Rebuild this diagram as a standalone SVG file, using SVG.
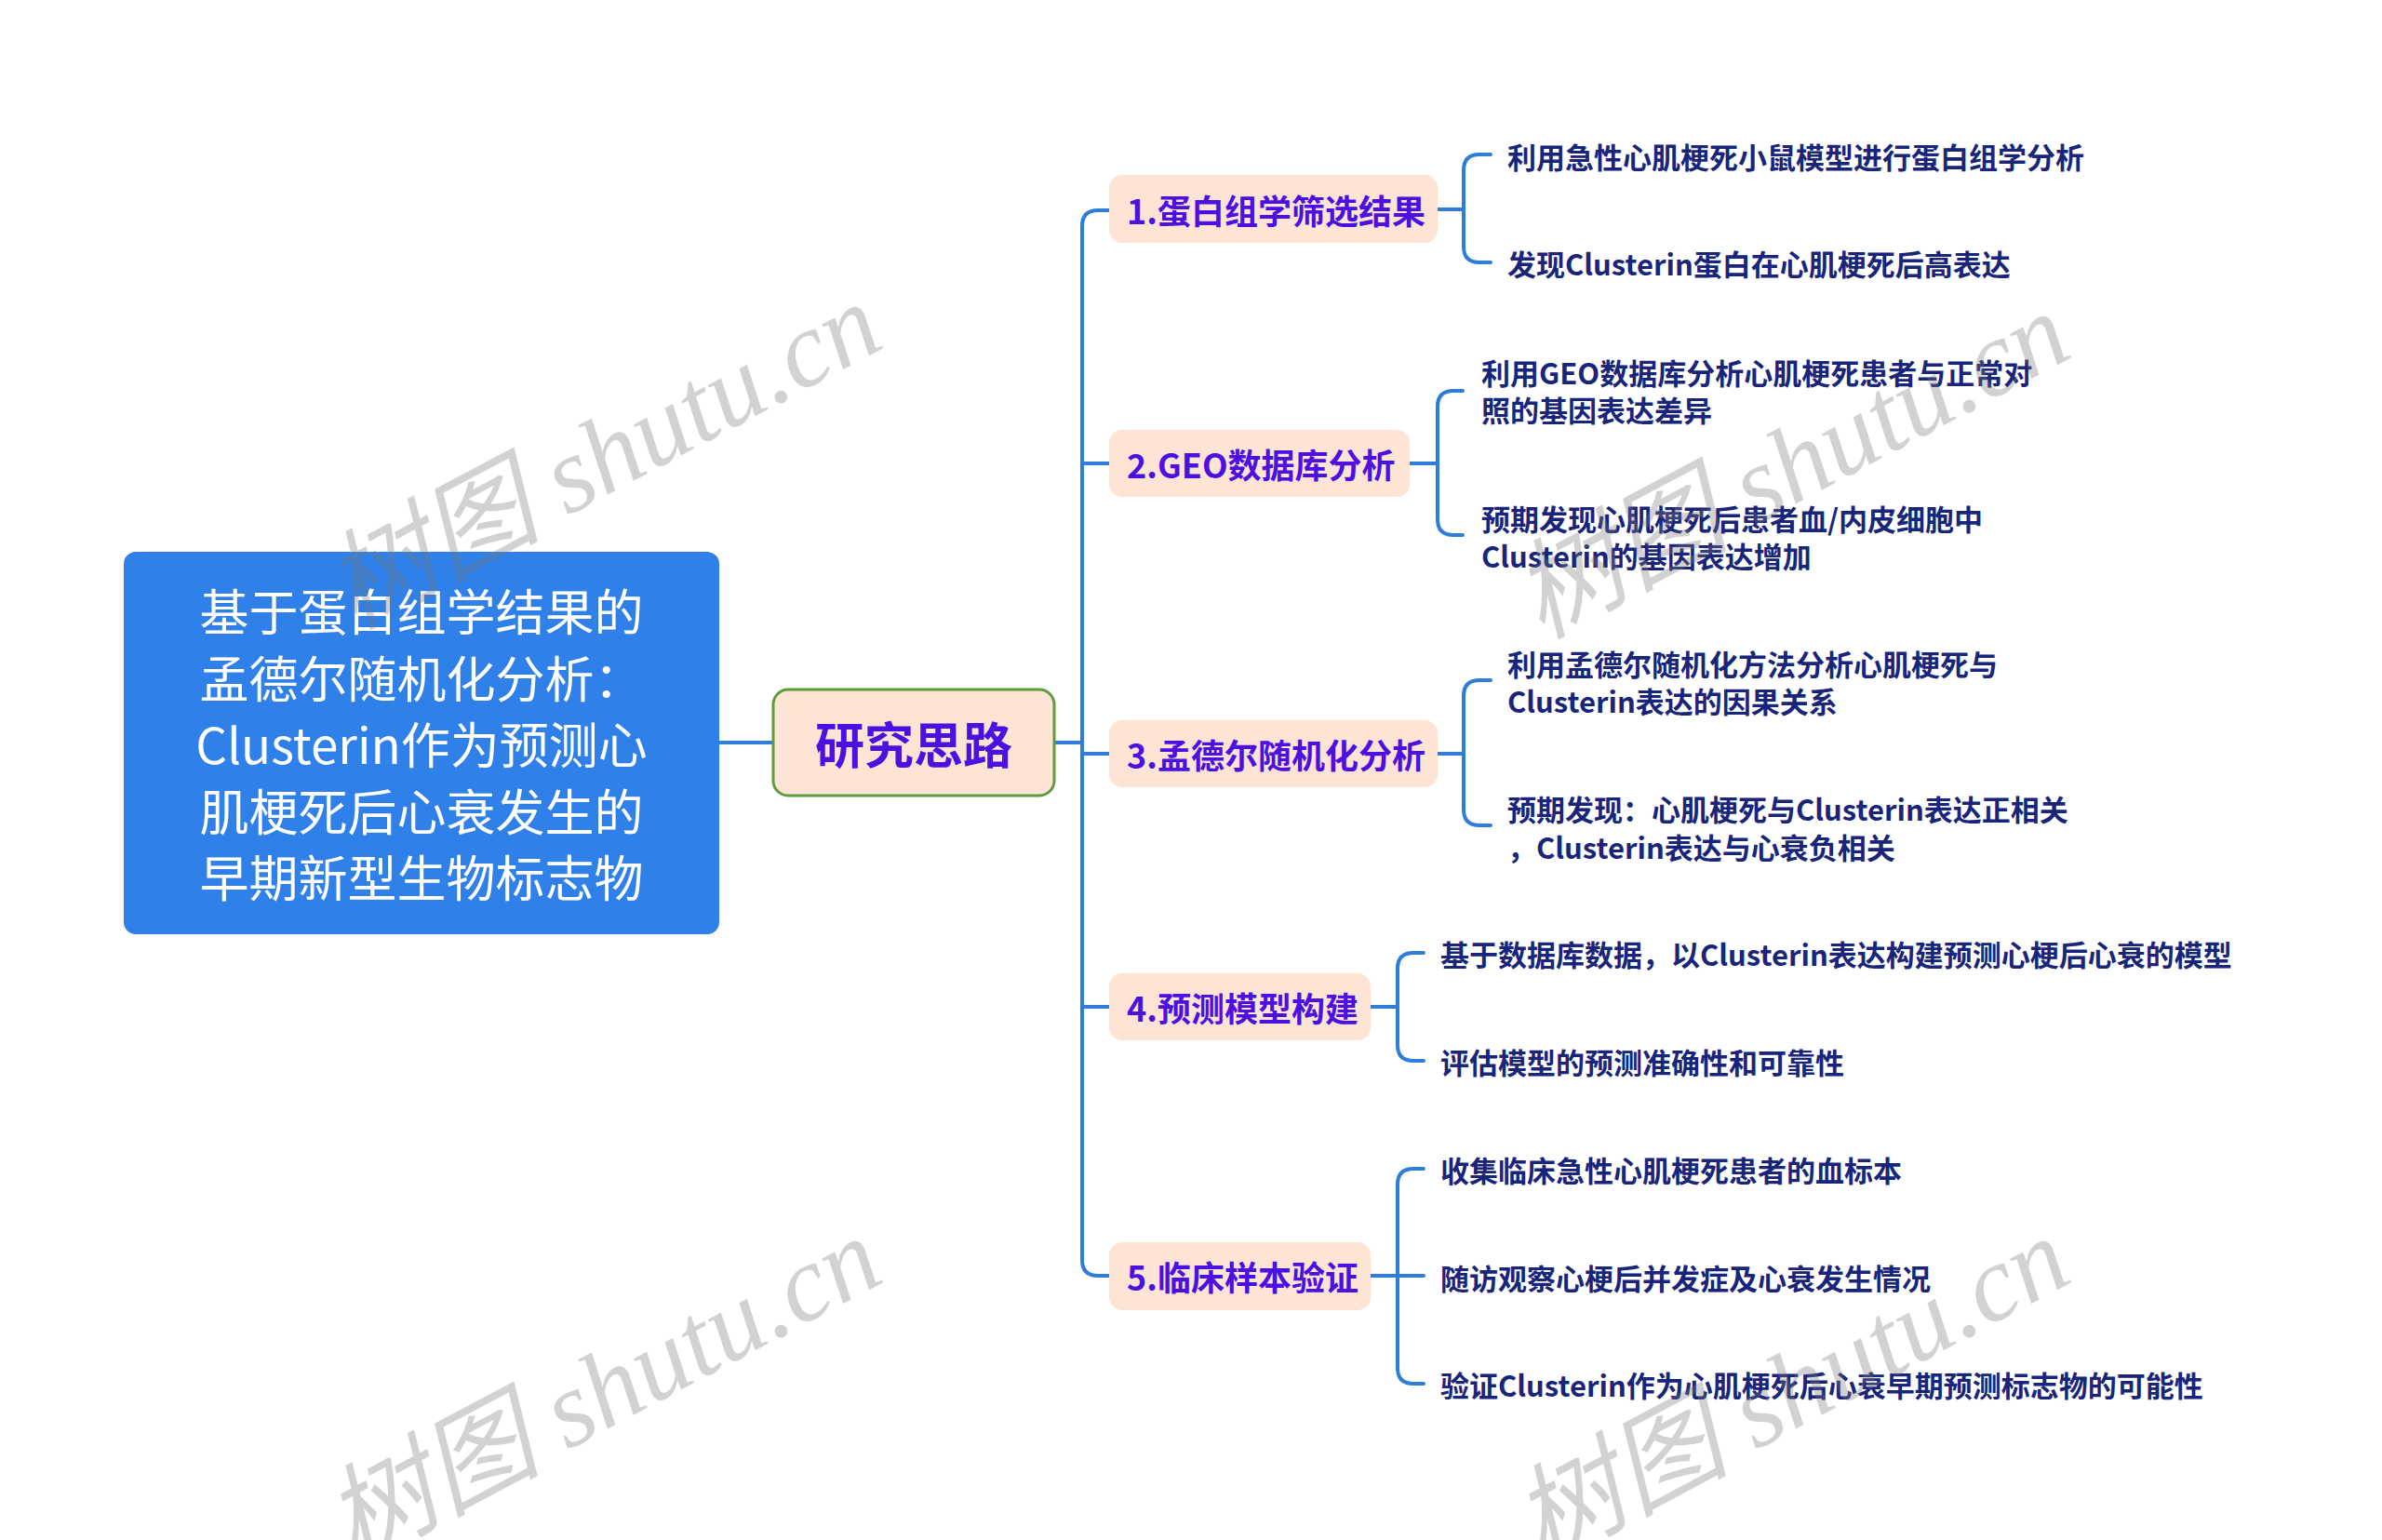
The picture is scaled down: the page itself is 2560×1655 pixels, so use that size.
<svg xmlns="http://www.w3.org/2000/svg" width="2560" height="1655" viewBox="0 0 2560 1655">
<style>
.conn{fill:none;stroke:#2F7DDB;stroke-width:4;stroke-linecap:round;stroke-linejoin:round}
.root-box{fill:#2F80E8}
.root-txt{font-family:"Noto Sans CJK SC","Noto Sans",sans-serif;font-size:53px;fill:#FFFFFF;text-anchor:middle;dominant-baseline:central}
.center-box{fill:#FDE4D5;stroke:#5E9C3C;stroke-width:3}
.l1-box{fill:#FDE4D5}
.l1-txt{font-family:"Noto Sans CJK SC","Noto Sans",sans-serif;font-weight:bold;font-size:36px;fill:#4C10E0;dominant-baseline:central}
.center-txt{font-family:"Noto Sans CJK SC","Noto Sans",sans-serif;font-weight:bold;font-size:53px;fill:#4C10E0;text-anchor:middle;dominant-baseline:central}
.l2-txt{font-family:"Noto Sans CJK SC","Noto Sans",sans-serif;font-weight:bold;font-size:31px;fill:#18257A;dominant-baseline:central}
.wm{font-family:"Liberation Serif","Noto Sans CJK SC",serif;font-style:italic;font-size:116px;fill:#7A7A7A;opacity:0.33;text-anchor:middle;dominant-baseline:central}
</style>
<rect width="2560" height="1655" fill="#FFFFFF"/>

<g id="connectors">
  <path class="conn" d="M772 798 H831"/>
  <path class="conn" d="M1133 798 H1163"/>
  <path class="conn" d="M1192 226 H1180 Q1163 226 1163 243 V1354 Q1163 1371 1180 1371 H1192"/>
  <path class="conn" d="M1163 498 H1192"/>
  <path class="conn" d="M1163 810 H1192"/>
  <path class="conn" d="M1163 1082 H1192"/>
  <!-- level 2: node 1 -->
  <path class="conn" d="M1545 225 H1573"/>
  <path class="conn" d="M1602 166 H1590 Q1573 166 1573 183 V265 Q1573 282 1590 282 H1602"/>
  <!-- node 2 -->
  <path class="conn" d="M1515 498 H1545"/>
  <path class="conn" d="M1572 420 H1562 Q1545 420 1545 437 V558 Q1545 575 1562 575 H1572"/>
  <!-- node 3 -->
  <path class="conn" d="M1545 810 H1573"/>
  <path class="conn" d="M1602 731 H1590 Q1573 731 1573 748 V870 Q1573 887 1590 887 H1602"/>
  <!-- node 4 -->
  <path class="conn" d="M1473 1082 H1502"/>
  <path class="conn" d="M1530 1024 H1519 Q1502 1024 1502 1041 V1123 Q1502 1140 1519 1140 H1530"/>
  <!-- node 5 -->
  <path class="conn" d="M1473 1371 H1530"/>
  <path class="conn" d="M1530 1256 H1519 Q1502 1256 1502 1273 V1470 Q1502 1487 1519 1487 H1530"/>
</g>

<g id="root">
  <rect class="root-box" x="133" y="593" width="640" height="411" rx="13"/>
  <text class="root-txt" x="453" y="655">基于蛋白组学结果的</text>
  <text class="root-txt" x="453" y="727">孟德尔随机化分析：</text>
  <text class="root-txt" x="453" y="798">Clusterin作为预测心</text>
  <text class="root-txt" x="453" y="870">肌梗死后心衰发生的</text>
  <text class="root-txt" x="453" y="941">早期新型生物标志物</text>
</g>

<g id="center">
  <rect class="center-box" x="831" y="741" width="302" height="114" rx="16"/>
  <text class="center-txt" x="982" y="798">研究思路</text>
</g>

<g id="n1">
  <rect class="l1-box" x="1192" y="188" width="353" height="73" rx="14"/>
  <text class="l1-txt" x="1211" y="225">1.蛋白组学筛选结果</text>
</g>
<g id="n2">
  <rect class="l1-box" x="1192" y="462" width="323" height="72" rx="14"/>
  <text class="l1-txt" x="1211" y="498">2.GEO数据库分析</text>
</g>
<g id="n3">
  <rect class="l1-box" x="1192" y="774" width="353" height="72" rx="14"/>
  <text class="l1-txt" x="1211" y="810">3.孟德尔随机化分析</text>
</g>
<g id="n4">
  <rect class="l1-box" x="1192" y="1046" width="281" height="72" rx="14"/>
  <text class="l1-txt" x="1211" y="1082">4.预测模型构建</text>
</g>
<g id="n5">
  <rect class="l1-box" x="1192" y="1335" width="281" height="73" rx="14"/>
  <text class="l1-txt" x="1211" y="1371">5.临床样本验证</text>
</g>

<g id="n1-1"><text class="l2-txt" x="1620" y="167">利用急性心肌梗死小鼠模型进行蛋白组学分析</text></g>
<g id="n1-2"><text class="l2-txt" x="1620" y="282">发现Clusterin蛋白在心肌梗死后高表达</text></g>
<g id="n2-1"><text class="l2-txt" x="1592" y="399">利用GEO数据库分析心肌梗死患者与正常对</text><text class="l2-txt" x="1592" y="439">照的基因表达差异</text></g>
<g id="n2-2"><text class="l2-txt" x="1592" y="556">预期发现心肌梗死后患者血/内皮细胞中</text><text class="l2-txt" x="1592" y="596">Clusterin的基因表达增加</text></g>
<g id="n3-1"><text class="l2-txt" x="1620" y="712">利用孟德尔随机化方法分析心肌梗死与</text><text class="l2-txt" x="1620" y="752">Clusterin表达的因果关系</text></g>
<g id="n3-2"><text class="l2-txt" x="1620" y="868">预期发现：心肌梗死与Clusterin表达正相关</text><text class="l2-txt" x="1620" y="909">，Clusterin表达与心衰负相关</text></g>
<g id="n4-1"><text class="l2-txt" x="1548" y="1024">基于数据库数据，以Clusterin表达构建预测心梗后心衰的模型</text></g>
<g id="n4-2"><text class="l2-txt" x="1548" y="1140">评估模型的预测准确性和可靠性</text></g>
<g id="n5-1"><text class="l2-txt" x="1548" y="1256">收集临床急性心肌梗死患者的血标本</text></g>
<g id="n5-2"><text class="l2-txt" x="1548" y="1372">随访观察心梗后并发症及心衰发生情况</text></g>
<g id="n5-3"><text class="l2-txt" x="1548" y="1487">验证Clusterin作为心肌梗死后心衰早期预测标志物的可能性</text></g>

<g id="watermarks">
  <text class="wm" transform="translate(648 490) rotate(-28)">树图 shutu.cn</text>
  <text class="wm" transform="translate(1925 500) rotate(-28)">树图 shutu.cn</text>
  <text class="wm" transform="translate(648 1494) rotate(-28)">树图 shutu.cn</text>
  <text class="wm" transform="translate(1925 1494) rotate(-28)">树图 shutu.cn</text>
</g>
</svg>
